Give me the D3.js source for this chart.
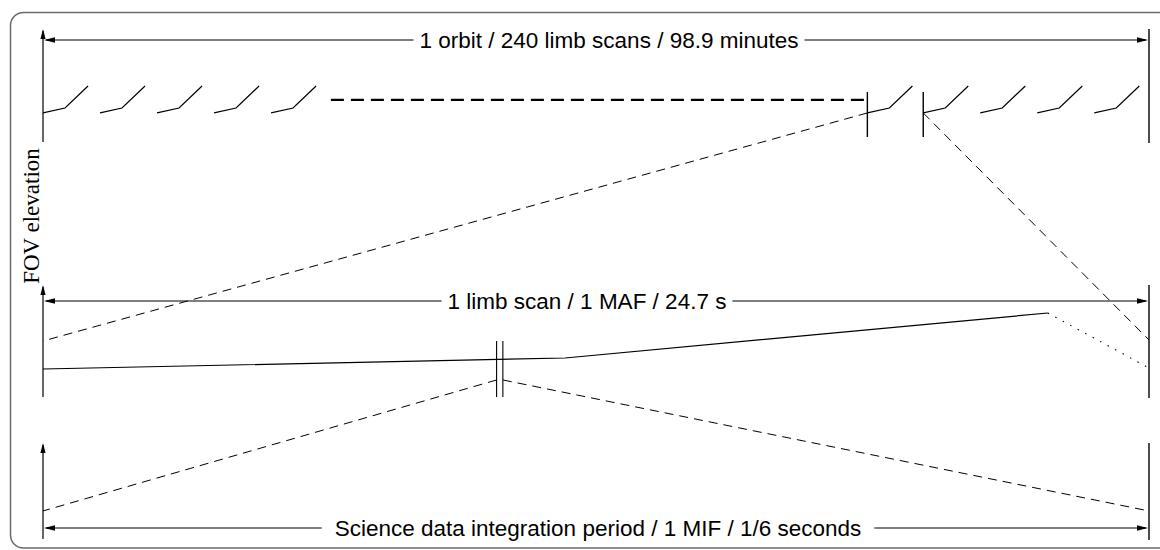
<!DOCTYPE html>
<html>
<head>
<meta charset="utf-8">
<script src="https://cdn.jsdelivr.net/npm/d3@7/dist/d3.min.js"></script>
<style>
  html, body { margin: 0; padding: 0; background: #fff; }
  svg { display: block; }
</style>
</head>
<body>
<svg id="chart" width="1160" height="550"></svg>
<script>
// ---------------- DATA ----------------
// Panel labels (duration bars)
const panelLabels = [
  "1 orbit / 240 limb scans / 98.9 minutes",
  "1 limb scan / 1 MAF / 24.7 s",
  "Science data integration period / 1 MIF / 1/6 seconds"
];
const axisTitle = "FOV elevation";

// Top panel: time in limb-scan units (panel spans 19.4 scans), elevation 0..1
const orbitSpan = [0, 19.4];
const scanStartsLeft = [0, 1, 2, 3, 4];
const scanStartsRight = [15.44, 16.44, 17.44, 18.44];
const scanShapeU = [0, 0.386, 0.79];        // offsets within a scan
const scanShapeElev = [0.257, 0.301, 0.496]; // elevation at those offsets
const gapStart = 5.05, gapEnd = 14.46, gapElev = 0.372;   // "..." dashed break
const selScan = [14.46, 15.44];              // bars marking the selected scan
const selScanElev = [0.044, 0.442];

// Middle panel: time within one MAF (s), elevation 0..1
const mafSpan = [0, 24.7];
const scanTime = [0, 11.66, 22.44];
const scanElev = [0.25, 0.348, 0.75];
const retraceTime = [22.44, 24.7];
const retraceElev = [0.75, 0.259];
const mifBars = [10.13, 10.27];
const mifBarElev = [0, 0.5];
const projTopElev = [0.5, 0.509];            // where orbit projection lands
const mifProjElev = 0.152;

// Bottom panel: time within one MIF (s)
const mifSpan = [0, 1 / 6];
const mifProjEndElev = 0.292;

// ---------------- LAYOUT ----------------
const svg = d3.select("#chart");
const X0 = 43, X1 = 1149;
const panels = [
  { yBot: 142, yTop: 29, arrowY: 40, labelCx: 609, gap: 6, baseline: 7.5 },
  { yBot: 397, yTop: 285, arrowY: 301, labelCx: 587, gap: 6, baseline: 7.5 },
  { yBot: 539, yTop: 443, arrowY: 528, labelCx: 598, gap: 13, baseline: 7.5 }
];
const xTop = d3.scaleLinear().domain(orbitSpan).range([X0, X1]);
const xMid = d3.scaleLinear().domain(mafSpan).range([X0, X1]);
const xBot = d3.scaleLinear().domain(mifSpan).range([X0, X1]);
const yTop = d3.scaleLinear().domain([0, 1]).range([panels[0].yBot, panels[0].yTop]);
const yMid = d3.scaleLinear().domain([0, 1]).range([panels[1].yBot, panels[1].yTop]);
const yBot = d3.scaleLinear().domain([0, 1]).range([panels[2].yBot, panels[2].yTop]);
const ys = [yTop, yMid, yBot];

const line = d3.line();
const ink = "#000";
const sw = 1.2;

// frame
svg.append("rect")
  .attr("x", 10.5).attr("y", 12.5).attr("width", 1175).attr("height", 535.5)
  .attr("rx", 13).attr("ry", 13)
  .attr("fill", "none").attr("stroke", "#6b6b6b").attr("stroke-width", 1.5);

// arrowhead helpers
function arrowUp(x, yTip) {
  svg.append("path").attr("d", `M${x},${yTip} L${x - 2.6},${yTip + 10} L${x + 2.6},${yTip + 10} Z`).attr("fill", ink);
}
function arrowH(xTip, y, dir) {
  svg.append("path").attr("d", `M${xTip},${y} L${xTip - dir * 11},${y - 2.8} L${xTip - dir * 11},${y + 2.8} Z`).attr("fill", ink);
}

// axes / panel bounds
panels.forEach((p, i) => {
  const y = ys[i];
  svg.append("line").attr("x1", X0).attr("x2", X0).attr("y1", y(0)).attr("y2", y(1) + 2)
    .attr("stroke", ink).attr("stroke-width", sw);
  arrowUp(X0, y(1));
  svg.append("line").attr("x1", X1).attr("x2", X1).attr("y1", y(0) + 1).attr("y2", y(1))
    .attr("stroke", ink).attr("stroke-width", 1.4);

  // duration arrow with label
  const t = svg.append("text")
    .attr("x", p.labelCx).attr("y", p.arrowY + p.baseline)
    .attr("text-anchor", "middle")
    .attr("font-family", "'Liberation Sans', Arial, Helvetica, sans-serif")
    .attr("font-size", 22.5).attr("fill", ink)
    .text(panelLabels[i]);
  const bb = t.node().getBBox();
  svg.append("line").attr("x1", X0 + 3).attr("x2", bb.x - p.gap).attr("y1", p.arrowY).attr("y2", p.arrowY)
    .attr("stroke", ink).attr("stroke-width", sw);
  svg.append("line").attr("x1", bb.x + bb.width + p.gap).attr("x2", X1 - 3).attr("y1", p.arrowY).attr("y2", p.arrowY)
    .attr("stroke", ink).attr("stroke-width", sw);
  arrowH(X0 + 1, p.arrowY, -1);
  arrowH(X1 - 1, p.arrowY, 1);
});

// y-axis title
svg.append("text")
  .attr("transform", "translate(39,216) rotate(-90)")
  .attr("text-anchor", "middle")
  .attr("font-family", "'Liberation Serif', 'Times New Roman', serif")
  .attr("font-size", 23).attr("fill", ink)
  .text(axisTitle);

// ---- top panel: limb scans ----
const scanStarts = scanStartsLeft.concat([selScan[0]], scanStartsRight);
scanStarts.forEach(s => {
  const pts = scanShapeU.map((u, k) => [xTop(s + u), yTop(scanShapeElev[k])]);
  svg.append("path").attr("d", line(pts)).attr("fill", "none").attr("stroke", ink).attr("stroke-width", sw);
});
svg.append("path")
  .attr("d", line([[xTop(gapStart), yTop(gapElev)], [xTop(gapEnd), yTop(gapElev)]]))
  .attr("stroke", ink).attr("stroke-width", 2.2).attr("stroke-dasharray", "13,7").attr("fill", "none");
selScan.forEach(s => {
  svg.append("line").attr("x1", xTop(s)).attr("x2", xTop(s))
    .attr("y1", yTop(selScanElev[0])).attr("y2", yTop(selScanElev[1]))
    .attr("stroke", ink).attr("stroke-width", 1.4);
});

// projection from top panel to middle panel
const dashThin = "9,6";
svg.append("path")
  .attr("d", line([[xTop(selScan[0]), yTop(scanShapeElev[0])], [xMid(mafSpan[0]), yMid(projTopElev[0])]]))
  .attr("stroke", ink).attr("stroke-width", 1).attr("stroke-dasharray", dashThin).attr("fill", "none");
svg.append("path")
  .attr("d", line([[xTop(selScan[1]), yTop(scanShapeElev[0])], [xMid(mafSpan[1]), yMid(projTopElev[1])]]))
  .attr("stroke", ink).attr("stroke-width", 1).attr("stroke-dasharray", dashThin).attr("fill", "none");

// ---- middle panel: one limb scan ----
svg.append("path")
  .attr("d", line(scanTime.map((t, k) => [xMid(t), yMid(scanElev[k])])))
  .attr("fill", "none").attr("stroke", ink).attr("stroke-width", sw);
svg.append("path")
  .attr("d", line(retraceTime.map((t, k) => [xMid(t), yMid(retraceElev[k])])))
  .attr("fill", "none").attr("stroke", ink).attr("stroke-width", 1.1).attr("stroke-dasharray", "1.5,7");
mifBars.forEach(t => {
  svg.append("line").attr("x1", xMid(t)).attr("x2", xMid(t))
    .attr("y1", yMid(mifBarElev[0])).attr("y2", yMid(mifBarElev[1]))
    .attr("stroke", ink).attr("stroke-width", 1.1);
});

// projection from middle to bottom panel
svg.append("path")
  .attr("d", line([[xMid(mifBars[0]), yMid(mifProjElev)], [xBot(mifSpan[0]), yBot(mifProjEndElev)]]))
  .attr("stroke", ink).attr("stroke-width", 1).attr("stroke-dasharray", dashThin).attr("fill", "none");
svg.append("path")
  .attr("d", line([[xMid(mifBars[1]), yMid(mifProjElev)], [xBot(mifSpan[1]), yBot(mifProjEndElev)]]))
  .attr("stroke", ink).attr("stroke-width", 1).attr("stroke-dasharray", dashThin).attr("fill", "none");
</script>
</body>
</html>
